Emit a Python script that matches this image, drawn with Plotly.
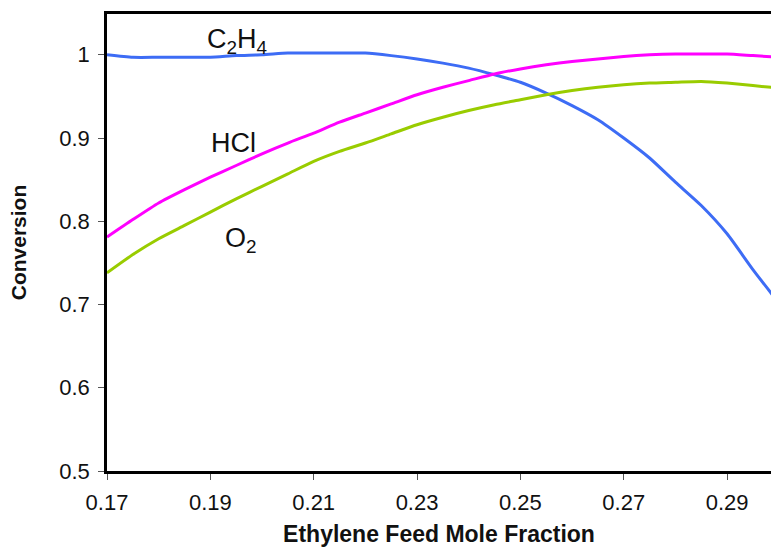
import plotly.graph_objects as go

x_vals = [0.170, 0.175, 0.180, 0.185, 0.190, 0.195, 0.200, 0.205, 0.210, 0.215,
          0.220, 0.225, 0.230, 0.235, 0.240, 0.245, 0.250, 0.255, 0.260, 0.265,
          0.270, 0.275, 0.280, 0.285, 0.290, 0.295, 0.300]

c2h4 = [1.000, 0.997, 0.997, 0.997, 0.997, 0.999, 1.000, 1.002, 1.002, 1.002,
        1.002, 0.999, 0.995, 0.990, 0.984, 0.976, 0.967, 0.954, 0.939, 0.922,
        0.900, 0.876, 0.847, 0.819, 0.785, 0.742, 0.702]

hcl = [0.781, 0.802, 0.822, 0.838, 0.853, 0.867, 0.881, 0.894, 0.906, 0.919,
       0.930, 0.941, 0.952, 0.961, 0.969, 0.977, 0.983, 0.988, 0.992, 0.995,
       0.998, 1.000, 1.001, 1.001, 1.001, 0.999, 0.997]

o2 = [0.738, 0.760, 0.779, 0.795, 0.811, 0.827, 0.842, 0.857, 0.872, 0.884,
      0.894, 0.905, 0.916, 0.925, 0.933, 0.940, 0.946, 0.952, 0.957, 0.961,
      0.964, 0.966, 0.967, 0.968, 0.966, 0.963, 0.960]

x_ticks = [0.17, 0.19, 0.21, 0.23, 0.25, 0.27, 0.29]
x_tick_text = ["0.17", "0.19", "0.21", "0.23", "0.25", "0.27", "0.29"]
y_ticks = [0.5, 0.6, 0.7, 0.8, 0.9, 1.0]
y_tick_text = ["0.5", "0.6", "0.7", "0.8", "0.9", "1"]

fig = go.Figure()
line_common = dict(width=3, shape="spline", smoothing=0.6)
fig.add_trace(go.Scatter(x=x_vals, y=c2h4, mode="lines", name="C2H4",
                         line=dict(color="#3D6CF5", **line_common)))
fig.add_trace(go.Scatter(x=x_vals, y=hcl, mode="lines", name="HCl",
                         line=dict(color="#FF00FF", **line_common)))
fig.add_trace(go.Scatter(x=x_vals, y=o2, mode="lines", name="O2",
                         line=dict(color="#99CC00", **line_common)))

label_font = dict(family="Liberation Sans, Arial, sans-serif", size=27, color="#111111")
fig.add_annotation(x=0.1952, y=1.016, text="C<sub>2</sub>H<sub>4</sub>", showarrow=False,
                   font=label_font, xanchor="center", yanchor="middle")
fig.add_annotation(x=0.1944, y=0.8946, text="HCl", showarrow=False,
                   font=label_font, xanchor="center", yanchor="middle")
fig.add_annotation(x=0.196, y=0.778, text="O<sub>2</sub>", showarrow=False,
                   font=label_font, xanchor="center", yanchor="middle")

fig.update_layout(
    width=771, height=547,
    margin=dict(l=107, r=0, t=14, b=76),
    paper_bgcolor="white", plot_bgcolor="white",
    showlegend=False,
    font=dict(family="Liberation Sans, Arial, sans-serif", color="#111111"),
)
fig.update_xaxes(
    automargin=False,
    range=[0.17, 0.2985], tickmode="array", tickvals=x_ticks, ticktext=x_tick_text,
    showgrid=False, zeroline=False, showline=True, linecolor="black", linewidth=2.5,
    mirror=True, ticks="outside", ticklen=6, tickcolor="#555555", tickwidth=1,
    ticklabelstandoff=4,
    tickfont=dict(size=22, color="#111111"),
    title=dict(text="<b>Ethylene Feed Mole Fraction</b>", font=dict(size=23, color="#111111"),
               standoff=19),
)
fig.update_yaxes(
    automargin=False,
    range=[0.5, 1.049], tickmode="array", tickvals=y_ticks, ticktext=y_tick_text,
    showgrid=False, zeroline=False, showline=True, linecolor="black", linewidth=2.5,
    ticks="outside", ticklen=6, tickcolor="#555555", tickwidth=1,
    ticklabelstandoff=4,
    tickfont=dict(size=22, color="#111111"),
    title=dict(text="<b>Conversion</b>", font=dict(size=21, color="#111111"), standoff=27),
)

fig.write_html("out.html")
